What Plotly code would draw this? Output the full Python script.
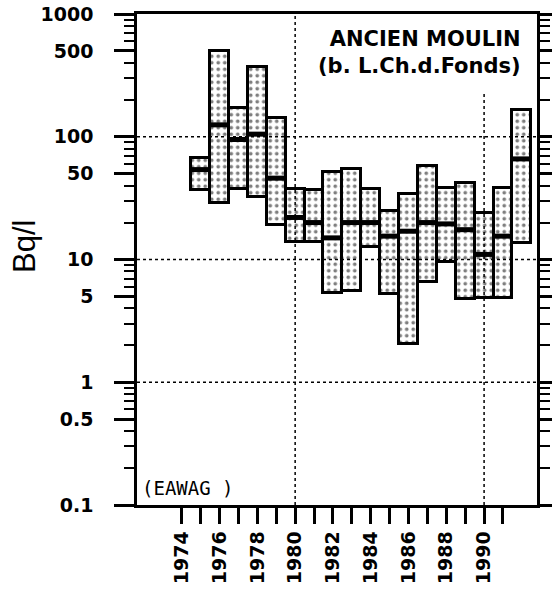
import plotly.graph_objects as go

# Annual ranges (min / max) and medians, Bq/l
years = [1975, 1976, 1977, 1978, 1979, 1980, 1981, 1982, 1983,
         1984, 1985, 1986, 1987, 1988, 1989, 1990, 1991, 1992]
low = [37, 29, 37.5, 32.5, 19, 14, 14, 5.3, 5.5,
       12.6, 5.2, 2.05, 6.6, 9.5, 4.8, 4.9, 4.9, 13.6]
high = [67, 500, 170, 370, 143, 37.5, 37, 52, 55,
        37.5, 25, 34, 58, 38.5, 42, 24, 38.5, 165]
median = [54, 125, 95, 105, 46, 22, 20, 15, 20,
          20, 15.5, 17, 20, 19.5, 17.5, 11, 15.5, 66]

y_tick_vals = [0.1, 0.5, 1, 5, 10, 50, 100, 500, 1000]
y_tick_text = ["0.1", "0.5", "1", "5", "10", "50", "100", "500", "1000"]
y_minor_vals = [m * 10 ** e for e in range(-1, 3) for m in (2, 3, 4, 6, 7, 8, 9)]
x_tick_vals = [1974, 1976, 1978, 1980, 1982, 1984, 1986, 1988, 1990]
x_minor_vals = [1975, 1977, 1979, 1981, 1983, 1985, 1987, 1989, 1991]

h_grid = [1, 10, 100]
v_grid = [(1980, 1000), (1990, 230)]

tick_font = dict(family="DejaVu Sans", size=19, color="black", weight="bold")

fig = go.Figure()

fig.add_trace(go.Bar(
    x=years,
    y=[h - l for h, l in zip(high, low)],
    base=low,
    width=1.0,
    marker=dict(
        color="white",
        line=dict(color="black", width=3),
        pattern=dict(shape=".", fgcolor="black", bgcolor="white",
                     size=6.5, solidity=0.26),
    ),
    showlegend=False,
))

fig.add_trace(go.Scatter(
    x=years,
    y=median,
    mode="markers",
    marker=dict(symbol="line-ew", size=13.5,
                line=dict(color="black", width=5)),
    showlegend=False,
))

shapes = []
for v in h_grid:
    shapes.append(dict(type="line", xref="paper", yref="y",
                       x0=0, x1=1, y0=v, y1=v, layer="above",
                       line=dict(color="black", width=1.5, dash="dot")))
for xv, top in v_grid:
    shapes.append(dict(type="line", xref="x", yref="y",
                       x0=xv, x1=xv, y0=0.1, y1=top, layer="above",
                       line=dict(color="black", width=1.5, dash="dot")))

y_common = dict(
    type="log",
    range=[-1, 3],
    tickvals=y_tick_vals,
    ticks="outside", ticklen=20, tickwidth=2.5, tickcolor="black",
    minor=dict(tickvals=y_minor_vals, ticks="outside", ticklen=10,
               tickwidth=2, tickcolor="black"),
    showline=True, linecolor="black", linewidth=2.5,
    showgrid=False, zeroline=False, automargin=False,
)

fig.update_layout(
    width=552, height=593,
    margin=dict(l=137, r=15, t=14, b=88),
    paper_bgcolor="white", plot_bgcolor="white",
    bargap=0,
    shapes=shapes,
    xaxis=dict(
        range=[1971.63, 1992.8],
        tickvals=x_tick_vals,
        ticktext=[str(v) for v in x_tick_vals],
        tickangle=-90,
        ticks="outside", ticklen=16, tickwidth=2.5, tickcolor="black",
        ticklabelstandoff=0,
        minor=dict(tickvals=x_minor_vals, ticks="outside", ticklen=16,
                   tickwidth=2.5, tickcolor="black"),
        tickfont=tick_font,
        showline=True, linecolor="black", linewidth=2.5, mirror=True,
        showgrid=False, zeroline=False, automargin=False,
    ),
    yaxis=dict(
        **y_common,
        ticktext=y_tick_text,
        ticklabelstandoff=17,
        tickfont=tick_font,
    ),
    # right-hand frame with the same tick ladder, unlabelled
    yaxis2=dict(
        **y_common,
        overlaying="y", side="right",
        showticklabels=False,
    ),
    annotations=[
        dict(text="ANCIEN MOULIN<br>(b. L.Ch.d.Fonds)",
             xref="paper", yref="paper", x=0.965, y=0.977,
             xanchor="right", yanchor="top", align="right",
             showarrow=False,
             font=dict(family="DejaVu Sans", size=21, color="black",
                       weight="bold")),
        dict(text="(EAWAG )",
             xref="paper", yref="paper", x=0.008, y=0.008,
             xanchor="left", yanchor="bottom", showarrow=False,
             font=dict(family="DejaVu Sans Mono", size=19, color="black")),
        dict(text="Bq/l",
             xref="paper", yref="paper", x=-0.28, y=0.5275,
             xanchor="center", yanchor="middle", textangle=-90,
             showarrow=False,
             font=dict(family="Liberation Sans", size=31, color="black")),
    ],
)

# invisible trace so the right-hand axis is drawn
fig.add_trace(go.Scatter(x=[years[0]], y=[median[0]], yaxis="y2",
                         mode="markers", marker=dict(opacity=0),
                         hoverinfo="skip", showlegend=False))

fig.write_html("out.html")
